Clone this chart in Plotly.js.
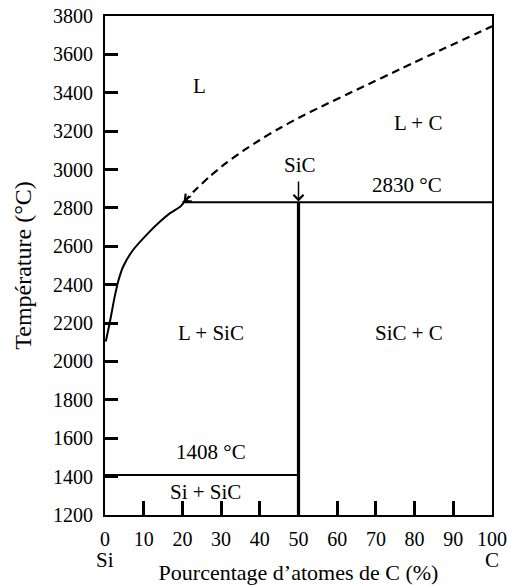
<!DOCTYPE html>
<html>
<head>
<meta charset="utf-8">
<script src="https://cdn.plot.ly/plotly-3.0.1.min.js"></script>
<style>
  html, body { margin: 0; padding: 0; background: #fff; }
  #chart { width: 507px; height: 585px; }
</style>
</head>
<body>
<div id="chart"></div>
<script>
// Diagramme de phases Si–C
const xTickVals = [0, 10, 20, 30, 40, 50, 60, 70, 80, 90, 100];
const yTickVals = [1200, 1400, 1600, 1800, 2000, 2200, 2400, 2600, 2800, 3000, 3200, 3400, 3600, 3800];

// Liquidus côté Si (trait plein)
const liquidusX = [0.2, 1.2, 2.5, 3.4, 4.7, 7.3, 10.8, 14.3, 16.9, 19.5, 20.3];
const liquidusT = [2104, 2199, 2338, 2417, 2495, 2582, 2661, 2730, 2774, 2808, 2826];

// Liquidus côté C (tirets)
const liquidusCX = [20.3, 23, 26.9, 31, 35.6, 40, 44.3, 50, 56.5, 66, 76.9, 88, 100];
const liquidusCT = [2830, 2887, 2961, 3029, 3096, 3154, 3206, 3269, 3334, 3425, 3529, 3634, 3746];

// Palier péritectique, eutectique et composé SiC
const peritecticT = 2830;
const peritecticX = [20, 100];
const eutecticT = 1408;
const eutecticX = [0, 50];
const sicX = 50;
const sicT = [1200, 2830];

const font = 'Liberation Serif';
const black = '#000';
const xRange = [0, 100];
const yRange = [1200, 3800];

const traces = [
  { x: liquidusX, y: liquidusT, mode: 'lines', line: { color: black, width: 2, shape: 'spline', smoothing: 0.8 }, hoverinfo: 'skip' },
  { x: liquidusCX, y: liquidusCT, mode: 'lines', line: { color: black, width: 2.2, dash: '8px,5px', shape: 'spline', smoothing: 0.5 }, hoverinfo: 'skip' },
  { x: peritecticX, y: [peritecticT, peritecticT], mode: 'lines', line: { color: black, width: 2 }, hoverinfo: 'skip' },
  { x: eutecticX, y: [eutecticT, eutecticT], mode: 'lines', line: { color: black, width: 2 }, hoverinfo: 'skip' },
  // le composé SiC, tracé sur les axes porteurs des graduations chiffrées
  { x: [sicX, sicX], y: sicT, xaxis: 'x2', yaxis: 'y2', mode: 'lines', line: { color: black, width: 3.2 }, hoverinfo: 'skip' }
];

function label(text, x, y) {
  return { text: text, x: x, y: y, xref: 'x', yref: 'y', showarrow: false,
           font: { family: font, size: 21, color: black } };
}

const annotations = [
  label('L', 24.5, 3435),
  label('L + C', 81, 3240),
  label('SiC', 50.3, 3025),
  label('2830 °C', 78, 2921),
  label('L + SiC', 27.3, 2150),
  label('SiC + C', 78.6, 2150),
  label('1408 °C', 27.3, 1527),
  label('Si + SiC', 26, 1318),
  // flèche vers SiC
  { text: '', x: sicX, y: peritecticT + 4, ax: sicX, ay: 2945, xref: 'x', yref: 'y', axref: 'x', ayref: 'y',
    showarrow: true, arrowhead: 4, arrowsize: 1.3, arrowwidth: 1.5, arrowcolor: black, standoff: 0 },
  // pointe au départ du liquidus en tirets
  { text: '', x: 20.3, y: 2832, ax: 22.6, ay: 2868, xref: 'x', yref: 'y', axref: 'x', ayref: 'y',
    showarrow: true, arrowhead: 4, arrowsize: 1.3, arrowwidth: 1.5, arrowcolor: black, standoff: 0 },
  // composants purs sous l'axe
  { text: 'Si', x: 0, y: -0.09, xref: 'x', yref: 'paper', yanchor: 'middle', showarrow: false,
    font: { family: font, size: 21, color: black } },
  { text: 'C', x: 100, y: -0.09, xref: 'x', yref: 'paper', yanchor: 'middle', showarrow: false,
    font: { family: font, size: 21, color: black } }
];

// graduations intérieures, cadre complet
const frameAxis = {
  ticks: 'inside',
  tickwidth: 3,
  tickcolor: black,
  showticklabels: false,
  showline: true,
  linecolor: black,
  linewidth: 2,
  mirror: true,
  showgrid: false,
  zeroline: false
};

// étiquettes chiffrées, décalées de l'axe
const labelAxis = {
  ticks: 'outside',
  tickcolor: 'rgba(0,0,0,0)',
  showline: false,
  showgrid: false,
  zeroline: false,
  tickfont: { family: font, size: 20, color: black }
};

const layout = {
  width: 507,
  height: 585,
  margin: { l: 105, r: 15, t: 16, b: 70 },
  paper_bgcolor: '#fff',
  plot_bgcolor: '#fff',
  showlegend: false,
  font: { family: font, color: black },
  xaxis: Object.assign({}, frameAxis, { range: xRange, tickvals: xTickVals, ticklen: 14 }),
  yaxis: Object.assign({}, frameAxis, { range: yRange, tickvals: yTickVals, ticklen: 13 }),
  xaxis2: Object.assign({}, labelAxis, {
    overlaying: 'x', anchor: 'y', side: 'bottom', range: xRange,
    tickvals: xTickVals, ticktext: xTickVals.map(String), ticklen: 6,
    title: { text: 'Pourcentage d’atomes de C (%)', font: { family: font, size: 22, color: black }, standoff: 20 }
  }),
  yaxis2: Object.assign({}, labelAxis, {
    overlaying: 'y', anchor: 'x', side: 'left', range: yRange,
    tickvals: yTickVals, ticktext: yTickVals.map(String), ticklen: 7,
    title: { text: 'Température (°C)', font: { family: font, size: 24, color: black }, standoff: 14 }
  }),
  annotations: annotations
};

Plotly.newPlot('chart', traces, layout, { staticPlot: true, displayModeBar: false });
</script>
</body>
</html>
